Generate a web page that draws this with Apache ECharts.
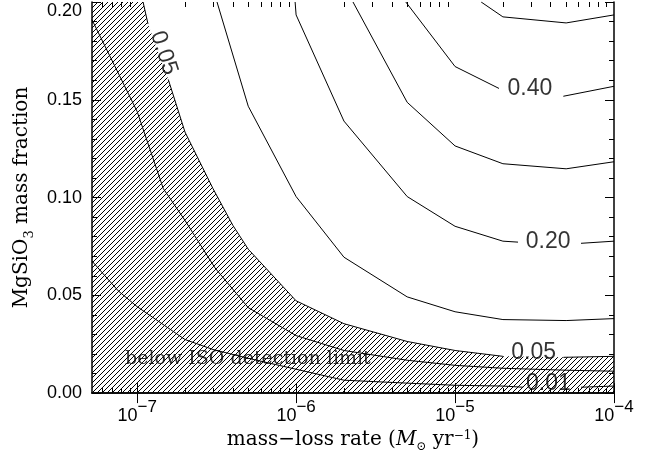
<!DOCTYPE html>
<html>
<head>
<meta charset="utf-8">
<script src="https://cdn.jsdelivr.net/npm/echarts@6/dist/echarts.min.js"></script>
<style>
html, body { margin: 0; padding: 0; background: #fff; }
#chart { width: 662px; height: 458px; }
</style>
</head>
<body>
<div id="chart"></div>
<script>
// axis ranges and ticks
var xMin = 5.2e-8, xMax = 1e-4;
var yMin = 0, yMax = 0.2;
var xMajor = [1e-7, 1e-6, 1e-5, 1e-4];
var xMinor = [6e-8, 7e-8, 8e-8, 9e-8,
	2e-7, 3e-7, 4e-7, 5e-7, 6e-7, 7e-7, 8e-7, 9e-7,
	2e-6, 3e-6, 4e-6, 5e-6, 6e-6, 7e-6, 8e-6, 9e-6,
	2e-5, 3e-5, 4e-5, 5e-5, 6e-5, 7e-5, 8e-5, 9e-5];

// contour lines, split where a label sits on them
var c001 = [
	[[5.2e-8, 0.0675], [7.6e-8, 0.0523], [1e-7, 0.0442], [2e-7, 0.0274], [3e-7, 0.0223], [5e-7, 0.0178],
	 [1e-6, 0.0122], [2e-6, 0.0066], [5e-6, 0.0051], [1e-5, 0.0040], [2e-5, 0.0036], [2.68e-5, 0.0030]],
	[[6.2e-5, 0.0030], [1e-4, 0.0036]]
];
var cMid = [
	[[5.2e-8, 0.1909], [1e-7, 0.144], [1.46e-7, 0.1046], [2e-7, 0.0883], [3.09e-7, 0.064], [5e-7, 0.0437],
	 [1e-6, 0.0294], [2e-6, 0.0218], [5e-6, 0.0168], [1e-5, 0.0142], [2e-5, 0.0127], [5e-5, 0.0117], [1e-4, 0.0112]]
];
var c005 = [
	[[1.09e-7, 0.2], [1.17e-7, 0.1888]],
	[[1.57e-7, 0.1604], [2e-7, 0.1335], [3e-7, 0.1046], [4e-7, 0.0858], [5e-7, 0.0736], [1e-6, 0.0472],
	 [2e-6, 0.0355], [5e-6, 0.0264], [1e-5, 0.0218], [2e-5, 0.0188]],
	[[4.8e-5, 0.0183], [1e-4, 0.0188]]
];
var c010 = [
	[[3.18e-7, 0.2], [5e-7, 0.1467], [1e-6, 0.1005], [2e-6, 0.0695], [5e-6, 0.0492], [1e-5, 0.0416],
	 [2e-5, 0.0376], [5e-5, 0.0371], [1e-4, 0.0381]]
];
var c020 = [
	[[9.86e-7, 0.2], [1e-6, 0.1934], [2e-6, 0.1391], [5e-6, 0.1005], [1e-5, 0.0853], [2e-5, 0.0777], [2.49e-5, 0.0772]],
	[[6.2e-5, 0.0766], [1e-4, 0.0777]]
];
var c030 = [
	[[2.28e-6, 0.2], [5e-6, 0.1487], [1e-5, 0.1264], [2e-5, 0.1173], [5e-5, 0.1147], [1e-4, 0.1183]]
];
var c040 = [
	[[4.9e-6, 0.2], [1e-5, 0.167], [1.89e-5, 0.1558]],
	[[4.8e-5, 0.1518], [1e-4, 0.1569]]
];
var c050 = [
	[[1.46e-5, 0.2], [2e-5, 0.1924], [5e-5, 0.1893], [1e-4, 0.1934]]
];

// contour labels: text, x, y, rotation
var labelText = ['0.05', '0.40', '0.20', '0.05', '0.01'];
var labelX = [1.47e-7, 2.96e-5, 3.85e-5, 3.12e-5, 3.87e-5];
var labelY = [0.1739, 0.1558, 0.0777, 0.0208, 0.0048];
var labelRot = [-72, 0, 0, 0, 0];

var noteText = 'below ISO detection limit';
var notePos = [8.4e-8, 0.0172];

function hatchCanvas() {
	var c = document.createElement('canvas');
	c.width = 5;
	c.height = 5;
	var g = c.getContext('2d');
	g.strokeStyle = '#000';
	g.lineWidth = 1;
	g.beginPath();
	g.moveTo(-1, 6); g.lineTo(6, -1);
	g.moveTo(-1, 1); g.lineTo(1, -1);
	g.moveTo(4, 6); g.lineTo(6, 4);
	g.stroke();
	return c;
}

var myChart = echarts.init(document.getElementById('chart'));

var series = [];

// hatched region below the 0.05 contour
var edge = [[xMin, yMax]];
for (var i = 0; i < c005.length; i++) {
	edge = edge.concat(c005[i]);
}
series.push({
	type: 'line',
	data: edge,
	symbol: 'none',
	lineStyle: { width: 0 },
	areaStyle: { color: { image: hatchCanvas(), repeat: 'repeat' }, opacity: 1, origin: 'start' },
	z: 1,
	silent: true
});

var contours = [c001, cMid, c005, c010, c020, c030, c040, c050];
for (var k = 0; k < contours.length; k++) {
	for (var s = 0; s < contours[k].length; s++) {
		series.push({
			type: 'line',
			data: contours[k][s],
			symbol: 'none',
			lineStyle: { color: '#000', width: 1 },
			z: 3,
			silent: true
		});
	}
}

var labelData = [];
for (var j = 0; j < labelText.length; j++) {
	labelData.push({
		value: [labelX[j], labelY[j]],
		name: labelText[j],
		label: { rotate: labelRot[j] }
	});
}
labelData.push({
	value: notePos,
	name: noteText,
	label: {
		align: 'left',
		fontFamily: 'DejaVu Serif',
		fontSize: 19
	}
});

series.push({
	type: 'scatter',
	data: labelData,
	symbolSize: 0,
	z: 5,
	silent: true,
	label: {
		show: true,
		position: 'inside',
		formatter: '{b}',
		color: '#000',
		fontFamily: 'Liberation Sans',
		fontSize: 23,
		align: 'center',
		verticalAlign: 'middle'
	}
});

var tickFont = 'Liberation Sans';
var serif = 'DejaVu Serif';

function logAxis(pos, ticks, len, withLabels, withLine) {
	return {
		type: 'log',
		logBase: 10,
		position: pos,
		min: xMin,
		max: xMax,
		axisLine: { show: withLine, lineStyle: { color: '#000', width: 1.5 } },
		axisTick: { show: true, inside: true, length: len, customValues: ticks, lineStyle: { color: '#000', width: 1 } },
		axisLabel: withLabels ? {
			show: true,
			customValues: xMajor,
			margin: 6,
			formatter: function(v) {
				return '{b|10}{s|\u2212' + Math.round(-Math.log10(v)) + '}';
			},
			rich: {
				b: { fontFamily: tickFont, fontSize: 18, color: '#000', verticalAlign: 'bottom' },
				s: { fontFamily: tickFont, fontSize: 17, color: '#000', verticalAlign: 'bottom', padding: [0, 0, 9, 0] }
			}
		} : { show: false },
		splitLine: { show: false },
		minorTick: { show: false },
		minorSplitLine: { show: false }
	};
}

var xAxes = [
	logAxis('bottom', xMajor, 10, true, true),
	logAxis('top', xMajor, 10, false, true),
	logAxis('bottom', xMinor, 5, false, false),
	logAxis('top', xMinor, 5, false, false)
];
xAxes[0].name = 'mass\u2212loss rate ({it|M}{sub|\u2299} yr{sup|\u22121})';
xAxes[0].nameLocation = 'middle';
xAxes[0].nameGap = 29;
xAxes[0].nameTextStyle = {
	fontFamily: serif, fontSize: 20, color: '#000', verticalAlign: 'bottom',
	rich: {
		it: { fontFamily: serif, fontStyle: 'italic', fontSize: 20, color: '#000', verticalAlign: 'bottom' },
		sub: { fontFamily: serif, fontSize: 12, color: '#000', verticalAlign: 'bottom', padding: [0, 0, -3, 0] },
		sup: { fontFamily: serif, fontSize: 12, color: '#000', verticalAlign: 'bottom', padding: [0, 0, 8, 0] }
	}
};

function valAxis(pos, withLabels) {
	return {
		type: 'value',
		position: pos,
		min: yMin,
		max: yMax,
		interval: 0.05,
		axisLine: { show: true, lineStyle: { color: '#000', width: 1.5 } },
		axisTick: { show: true, inside: true, length: 9, lineStyle: { color: '#000', width: 1 } },
		minorTick: { show: true, splitNumber: 5, length: 5, lineStyle: { color: '#000', width: 1 } },
		axisLabel: withLabels ? {
			show: true,
			margin: 10,
			fontFamily: tickFont,
			fontSize: 18,
			color: '#000',
			verticalAlignMaxLabel: 'top',
			formatter: function(v) { return v.toFixed(2); }
		} : { show: false },
		splitLine: { show: false }
	};
}

var yAxes = [valAxis('left', true), valAxis('right', false)];
yAxes[0].name = 'MgSiO{sub|3} mass fraction';
yAxes[0].nameLocation = 'middle';
yAxes[0].nameGap = 58;
yAxes[0].nameRotate = 90;
yAxes[0].nameTextStyle = {
	fontFamily: serif, fontSize: 20, color: '#000', verticalAlign: 'bottom',
	rich: {
		sub: { fontFamily: serif, fontSize: 13, color: '#000', verticalAlign: 'bottom', padding: [0, 0, -4, 0] }
	}
};

myChart.setOption({
	animation: false,
	backgroundColor: '#fff',
	grid: { left: 92, right: 48, top: 2, bottom: 62, containLabel: false },
	xAxis: xAxes,
	yAxis: yAxes,
	series: series
});
</script>
</body>
</html>
